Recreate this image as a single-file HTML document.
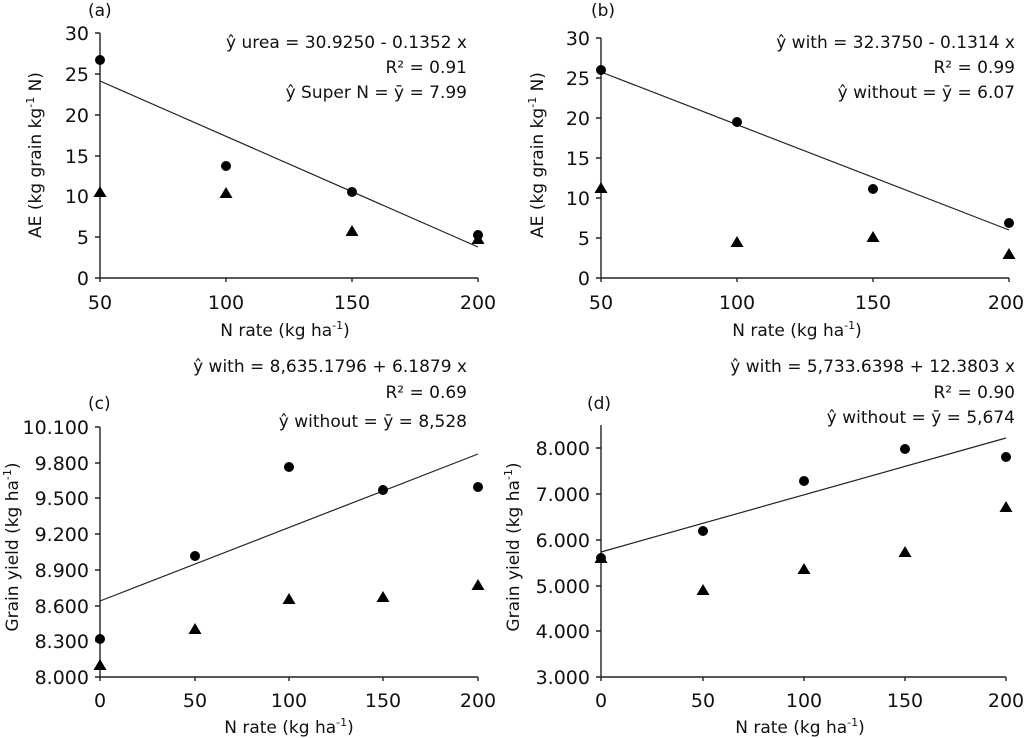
<!DOCTYPE html>
<html><head><meta charset="utf-8"><style>
html,body{margin:0;padding:0;background:#fff}
svg{display:block}
text{font-family:"DejaVu Sans","Liberation Sans",sans-serif;fill:#111}
.t{font-size:17px}
.e{font-size:17px;text-anchor:end}
.m{font-size:17px;text-anchor:middle}
.k{font-size:19px;text-anchor:end}
.km{font-size:19px;text-anchor:middle}
</style></head><body>
<svg width="1024" height="738" viewBox="0 0 1024 738" xmlns="http://www.w3.org/2000/svg">
<defs>
<symbol id="tri" viewBox="-7 -7 14 14"><polygon points="0,-6 6.5,5 -6.5,5" fill="#000"/></symbol>
</defs>
<g stroke="#222" stroke-width="1.4" fill="none">
<path d="M100,33 V278 M95,278 H478"/>
<path d="M95,33h5M95,74h5M95,115h5M95,156h5M95,196h5M95,237h5M100,278v4M226,278v4M352,278v4M478,278v4"/>
<line x1="100" y1="81" x2="478" y2="247" stroke-width="1.2"/>
<path d="M601,38 V278 M596,278 H1009"/>
<path d="M596,38h5M596,78h5M596,118h5M596,158h5M596,198h5M596,238h5M601,278v4M737,278v4M873,278v4M1009,278v4"/>
<line x1="601" y1="72" x2="1009" y2="230" stroke-width="1.2"/>
<path d="M100,427 V677 M95,677 H478"/>
<path d="M95,427h5M95,463h5M95,498h5M95,534h5M95,570h5M95,606h5M95,641h5M100,677v4M195,677v4M289,677v4M383,677v4M478,677v4"/>
<line x1="100" y1="601" x2="478" y2="454" stroke-width="1.2"/>
<path d="M601,425 V677 M596,677 H1006"/>
<path d="M596,448h5M596,494h5M596,540h5M596,586h5M596,631h5M601,677v4M703,677v4M804,677v4M905,677v4M1006,677v4"/>
<line x1="601" y1="552" x2="1006" y2="438" stroke-width="1.2"/>
</g>
<g fill="#000">
<circle cx="100" cy="60" r="5"/><circle cx="226" cy="166" r="5"/><circle cx="352" cy="192" r="5"/><circle cx="478" cy="235" r="5"/>
<circle cx="601" cy="70" r="5"/><circle cx="737" cy="122" r="5"/><circle cx="873" cy="189" r="5"/><circle cx="1009" cy="223" r="5"/>
<circle cx="100" cy="639" r="5"/><circle cx="195" cy="556" r="5"/><circle cx="289" cy="467" r="5"/><circle cx="383" cy="490" r="5"/><circle cx="478" cy="487" r="5"/>
<circle cx="601" cy="558" r="5"/><circle cx="703" cy="531" r="5"/><circle cx="804" cy="481" r="5"/><circle cx="905" cy="449" r="5"/><circle cx="1006" cy="457" r="5"/>
</g>
<g>
<use href="#tri" x="93" y="185" width="14" height="14"/><use href="#tri" x="219" y="186" width="14" height="14"/><use href="#tri" x="345" y="224" width="14" height="14"/><use href="#tri" x="471" y="232" width="14" height="14"/>
<use href="#tri" x="594" y="181" width="14" height="14"/><use href="#tri" x="730" y="235" width="14" height="14"/><use href="#tri" x="866" y="230" width="14" height="14"/><use href="#tri" x="1002" y="247" width="14" height="14"/>
<use href="#tri" x="93" y="658" width="14" height="14"/><use href="#tri" x="188" y="622" width="14" height="14"/><use href="#tri" x="282" y="592" width="14" height="14"/><use href="#tri" x="376" y="590" width="14" height="14"/><use href="#tri" x="471" y="578" width="14" height="14"/>
<use href="#tri" x="594" y="551" width="14" height="14"/><use href="#tri" x="696" y="583" width="14" height="14"/><use href="#tri" x="797" y="562" width="14" height="14"/><use href="#tri" x="898" y="545" width="14" height="14"/><use href="#tri" x="999" y="500" width="14" height="14"/>
</g>
<g>
<text x="89" y="40" class="k">30</text><text x="89" y="81" class="k">25</text><text x="89" y="122" class="k">20</text><text x="89" y="163" class="k">15</text><text x="89" y="203" class="k">10</text><text x="89" y="244" class="k">5</text><text x="89" y="285" class="k">0</text>
<text x="590" y="45" class="k">30</text><text x="590" y="85" class="k">25</text><text x="590" y="125" class="k">20</text><text x="590" y="165" class="k">15</text><text x="590" y="205" class="k">10</text><text x="590" y="245" class="k">5</text><text x="590" y="285" class="k">0</text>
<text x="89" y="434" class="k">10.100</text><text x="89" y="470" class="k">9.800</text><text x="89" y="505" class="k">9.500</text><text x="89" y="541" class="k">9.200</text><text x="89" y="577" class="k">8.900</text><text x="89" y="613" class="k">8.600</text><text x="89" y="648" class="k">8.300</text><text x="89" y="684" class="k">8.000</text>
<text x="590" y="455" class="k">8.000</text><text x="590" y="501" class="k">7.000</text><text x="590" y="547" class="k">6.000</text><text x="590" y="593" class="k">5.000</text><text x="590" y="638" class="k">4.000</text><text x="590" y="684" class="k">3.000</text>
</g>
<g>
<text x="100" y="309" class="km">50</text><text x="226" y="309" class="km">100</text><text x="352" y="309" class="km">150</text><text x="478" y="309" class="km">200</text>
<text x="601" y="309" class="km">50</text><text x="737" y="309" class="km">100</text><text x="873" y="309" class="km">150</text><text x="1006" y="309" class="km">200</text>
<text x="100" y="707" class="km">0</text><text x="195" y="707" class="km">50</text><text x="289" y="707" class="km">100</text><text x="383" y="707" class="km">150</text><text x="478" y="707" class="km">200</text>
<text x="601" y="707" class="km">0</text><text x="703" y="707" class="km">50</text><text x="804" y="707" class="km">100</text><text x="905" y="707" class="km">150</text><text x="1006" y="707" class="km">200</text>
</g>
<text x="285" y="336" class="m">N rate (kg ha<tspan font-size="11" dy="-7">-1</tspan><tspan dy="7">)</tspan></text>
<text x="797" y="336" class="m">N rate (kg ha<tspan font-size="11" dy="-7">-1</tspan><tspan dy="7">)</tspan></text>
<text x="289" y="733" class="m">N rate (kg ha<tspan font-size="11" dy="-7">-1</tspan><tspan dy="7">)</tspan></text>
<text x="800" y="733" class="m">N rate (kg ha<tspan font-size="11" dy="-7">-1</tspan><tspan dy="7">)</tspan></text>
<text transform="translate(41,155) rotate(-90)" class="m">AE (kg grain  kg<tspan font-size="11" dy="-7">-1</tspan><tspan dy="7"> N)</tspan></text>
<text transform="translate(543,155) rotate(-90)" class="m">AE (kg grain  kg<tspan font-size="11" dy="-7">-1</tspan><tspan dy="7"> N)</tspan></text>
<text transform="translate(18,547) rotate(-90)" class="m">Grain yield (kg ha<tspan font-size="11" dy="-7">-1</tspan><tspan dy="7">)</tspan></text>
<text transform="translate(519,547) rotate(-90)" class="m">Grain yield (kg ha<tspan font-size="11" dy="-7">-1</tspan><tspan dy="7">)</tspan></text>
<text x="88" y="16" class="t">(a)</text>
<text x="591" y="16" class="t">(b)</text>
<text x="88" y="409" class="t">(c)</text>
<text x="587" y="409" class="t">(d)</text>
<text x="467" y="48" class="e">ŷ urea = 30.9250 - 0.1352 x</text>
<text x="467" y="73" class="e">R² = 0.91</text>
<text x="467" y="98" class="e">ŷ Super N = ȳ = 7.99</text>
<text x="1015" y="48" class="e">ŷ with = 32.3750 - 0.1314 x</text>
<text x="1015" y="73" class="e">R² = 0.99</text>
<text x="1015" y="98" class="e">ŷ without = ȳ = 6.07</text>
<text x="467" y="372" class="e">ŷ with = 8,635.1796 + 6.1879 x</text>
<text x="467" y="398" class="e">R² = 0.69</text>
<text x="467" y="427" class="e">ŷ without = ȳ = 8,528</text>
<text x="1015" y="372" class="e">ŷ with = 5,733.6398 + 12.3803 x</text>
<text x="1015" y="398" class="e">R² = 0.90</text>
<text x="1015" y="423" class="e">ŷ without = ȳ = 5,674</text>
</svg>
</body></html>
